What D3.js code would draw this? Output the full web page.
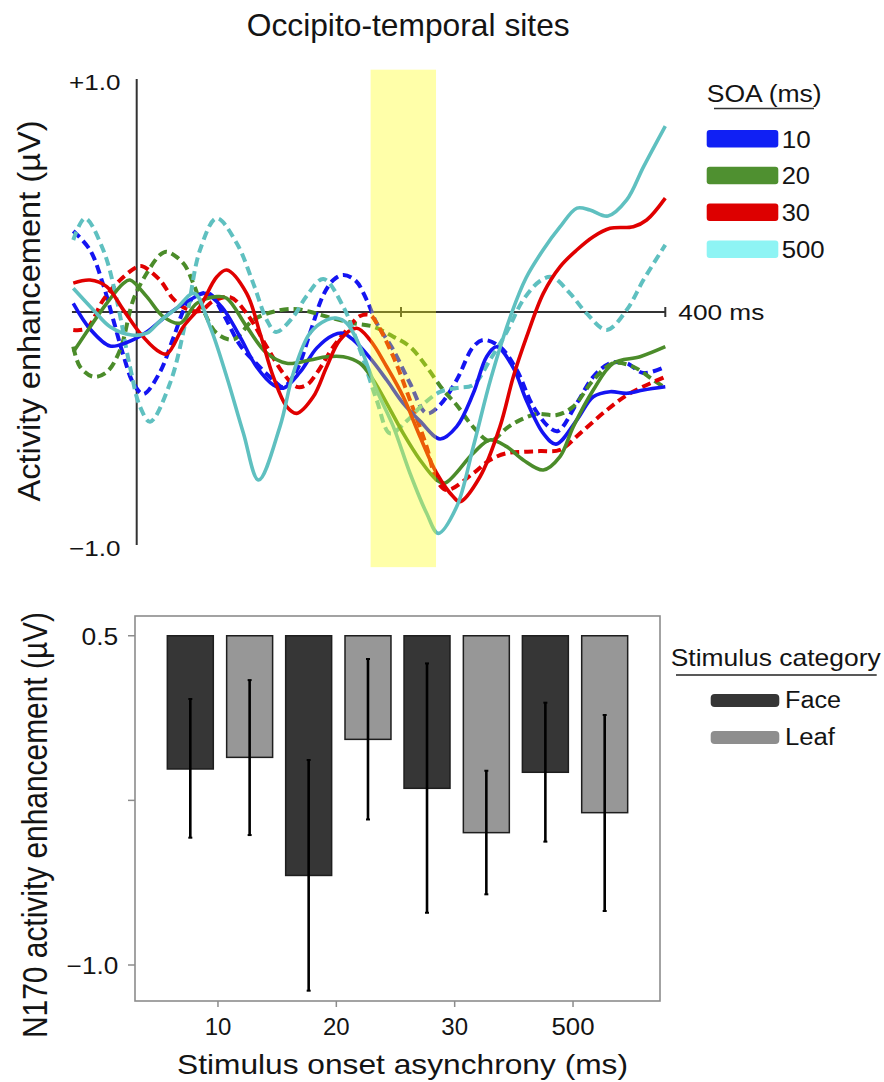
<!DOCTYPE html>
<html><head><meta charset="utf-8">
<script src="https://cdn.jsdelivr.net/npm/d3@7"></script>
<style>
html,body{margin:0;padding:0;background:#fff;}
svg{display:block;}
text{font-family:"Liberation Sans",Arial,Helvetica,sans-serif;fill:#141414;}
</style></head><body>
<svg id="chart" width="884" height="1082"></svg>
<script>
// ---------------- DATA ----------------
// Top panel: ERP difference waves, [time (ms), amplitude (µV)]
const soaLevels = ["10", "20", "30", "500"];
const erp10Solid = [[-48,0.037],[-35.3,-0.073],[-20.2,-0.146],[-7.6,-0.131],[7.6,-0.086],[25.2,-0.004],[42.8,0.060],[51.7,0.080],[64.5,0.021],[78.2,-0.107],[90.8,-0.236],[103.4,-0.313],[110.9,-0.327],[123.6,-0.258],[136.2,-0.155],[148.8,-0.099],[156.1,-0.091],[163.9,-0.120],[176.5,-0.197],[189.2,-0.292],[201.7,-0.392],[214.4,-0.468],[229.5,-0.545],[242.1,-0.492],[254.7,-0.349],[264.8,-0.192],[272.4,-0.149],[285.0,-0.240],[295.1,-0.382],[307.7,-0.521],[317.3,-0.567],[333.0,-0.464],[345.5,-0.364],[358.2,-0.342],[370.8,-0.349],[383.4,-0.335],[400,-0.321]];
const erp10Dashed = [[-48,0.348],[-35.3,0.266],[-25.3,0.116],[-17.7,-0.034],[-10.1,-0.185],[-2.6,-0.305],[5.0,-0.352],[17.6,-0.258],[27.7,-0.112],[37.8,0.030],[47.9,0.077],[55.5,0.077],[65.5,-0.009],[78.2,-0.142],[90.8,-0.223],[103.4,-0.292],[110.9,-0.322],[121.1,-0.249],[131.1,-0.091],[141.2,0.073],[148.8,0.137],[156.3,0.159],[165.9,0.133],[174.0,0.052],[181.6,-0.048],[194.2,-0.163],[206.8,-0.306],[219.4,-0.435],[229.5,-0.399],[242.1,-0.292],[254.7,-0.149],[262.3,-0.120],[274.9,-0.149],[287.6,-0.249],[300.1,-0.406],[312.8,-0.498],[318.8,-0.511],[333.0,-0.392],[345.5,-0.278],[358.2,-0.220],[370.8,-0.220],[383.4,-0.262],[400,-0.235]];
const erp20Solid = [[-48,-0.172],[-35.3,-0.064],[-22.7,0.037],[-10.1,0.123],[-5.1,0.137],[7.6,0.066],[20.1,-0.020],[32.8,-0.048],[45.4,0.037],[60.5,0.066],[68.1,0.059],[83.2,-0.063],[98.4,-0.177],[113.5,-0.220],[131.1,-0.206],[143.8,-0.192],[156.3,-0.192],[169.0,-0.220],[179.0,-0.292],[189.2,-0.392],[201.7,-0.521],[214.4,-0.635],[227.0,-0.721],[233.3,-0.734],[254.7,-0.606],[267.3,-0.549],[280.0,-0.578],[292.5,-0.635],[307.7,-0.678],[320.3,-0.621],[330.4,-0.492],[345.5,-0.335],[360.6,-0.220],[380.9,-0.192],[400,-0.149]];
const erp20Dashed = [[-48,-0.149],[-42.9,-0.235],[-32.8,-0.278],[-22.7,-0.258],[-12.6,-0.163],[-2.6,0.052],[7.6,0.166],[17.6,0.245],[22.7,0.259],[35.3,0.209],[42.8,0.123],[50.4,0.009],[60.5,-0.091],[73.1,-0.118],[88.2,-0.034],[103.4,0.001],[118.5,0.013],[131.1,0.001],[143.8,-0.020],[163.9,-0.048],[179.0,-0.063],[194.2,-0.106],[206.8,-0.149],[219.4,-0.235],[232.0,-0.335],[242.1,-0.399],[254.7,-0.494],[267.3,-0.554],[280.0,-0.498],[290.0,-0.464],[302.7,-0.438],[317.8,-0.442],[330.4,-0.406],[345.5,-0.292],[360.6,-0.220],[375.8,-0.235],[390.9,-0.292],[400,-0.326]];
const erp30Solid = [[-48,0.124],[-35.3,0.137],[-22.7,0.109],[-10.1,0.009],[2.5,-0.091],[15.1,-0.163],[22.7,-0.180],[35.3,-0.063],[47.9,0.023],[60.5,0.150],[68.1,0.180],[83.2,0.080],[93.3,-0.091],[103.4,-0.278],[113.5,-0.406],[121.1,-0.435],[133.6,-0.364],[143.8,-0.235],[153.8,-0.120],[166.5,-0.070],[176.5,-0.120],[189.2,-0.235],[201.7,-0.364],[214.4,-0.535],[227.0,-0.692],[239.6,-0.793],[244.6,-0.814],[259.8,-0.707],[274.9,-0.492],[285.0,-0.278],[295.1,-0.106],[307.7,0.080],[320.3,0.194],[333.0,0.266],[345.5,0.323],[358.2,0.359],[375.8,0.366],[385.9,0.395],[400,0.489]];
const erp30Dashed = [[-48,-0.077],[-37.8,-0.070],[-25.3,0.052],[-12.6,0.137],[0,0.193],[4.0,0.197],[17.6,0.137],[27.7,0.056],[37.8,0.013],[47.9,0.004],[58.0,0.047],[70.6,0.064],[83.2,-0.006],[98.4,-0.149],[110.9,-0.263],[121.1,-0.321],[128.6,-0.313],[136.2,-0.263],[148.8,-0.149],[158.9,-0.077],[169.0,-0.017],[176.5,-0.013],[181.6,-0.048],[194.2,-0.192],[206.8,-0.378],[219.4,-0.578],[227.0,-0.721],[234.6,-0.764],[254.7,-0.692],[267.3,-0.635],[280.0,-0.606],[292.5,-0.600],[305.2,-0.597],[320.3,-0.592],[335.5,-0.521],[355.7,-0.421],[373.3,-0.349],[400,-0.278]];
const erp500Solid = [[-48,0.102],[-32.8,0.009],[-20.2,-0.063],[-3.8,-0.099],[7.6,-0.091],[17.6,-0.039],[30.3,0.017],[43.4,0.080],[55.5,-0.063],[68.1,-0.278],[80.7,-0.519],[92.2,-0.721],[108.4,-0.492],[118.5,-0.263],[131.1,-0.091],[143.8,-0.034],[150.8,-0.026],[158.9,-0.048],[169.0,-0.149],[181.6,-0.335],[194.2,-0.492],[206.8,-0.692],[219.4,-0.864],[228.2,-0.950],[242.1,-0.836],[254.7,-0.578],[268.1,-0.283],[284.0,0],[294.6,0.146],[307.5,0.266],[320.3,0.365],[333.2,0.446],[343.0,0.438],[356.6,0.412],[370.8,0.481],[383.4,0.622],[400,0.798]];
const erp500Dashed = [[-48,0.309],[-39.1,0.402],[-25.3,0.266],[-15.1,0.052],[-5.1,-0.235],[2.5,-0.406],[10.1,-0.471],[25.2,-0.306],[37.8,-0.020],[47.9,0.266],[60.5,0.402],[75.7,0.295],[88.2,0.123],[98.4,-0.034],[105.4,-0.086],[118.5,-0.020],[128.6,0.069],[141.2,0.142],[156.3,0.023],[169.0,-0.163],[181.6,-0.378],[191.7,-0.521],[204.3,-0.468],[216.9,-0.395],[229.5,-0.343],[242.1,-0.326],[254.7,-0.313],[267.3,-0.206],[280.0,-0.086],[292.5,0.052],[305.2,0.133],[314.3,0.150],[327.9,0.080],[340.5,-0.006],[355.7,-0.077],[370.8,0.009],[383.4,0.137],[400,0.288]];
const n170Window = [177, 226.5];          // ms, highlighted window
const topTimeTicks = [200, 400];
const topTickLabels = ["+1.0", "\u22121.0"];

// Bottom panel: N170 enhancement, bars hang from the 0.5 baseline
const categories = ["10", "20", "30", "500"];
const stimulusTypes = ["Face", "Leaf"];
const faceMeans = [-0.107, -0.592, -0.195, -0.122];
const leafMeans = [-0.054, 0.028, -0.397, -0.306];
const faceErrLow = [-0.420, -1.117, -0.762, -0.438];
const faceErrHigh = [0.212, -0.066, 0.374, 0.195];
const leafErrLow = [-0.408, -0.337, -0.678, -0.754];
const leafErrHigh = [0.298, 0.394, -0.115, 0.139];
const barBase = 0.5;
const bottomYTicks = [0.5, -0.25, -1.0];
const bottomYTickLabels = ["0.5", "", "\u22121.0"];

// ---------------- STYLE ----------------
const lineColor = {"10": "#1414f2", "20": "#4b8c2a", "30": "#e00000", "500": "#5fc0c0"};
const swatchColor = {"10": "#1020f4", "20": "#4f9030", "30": "#dd0000", "500": "#8ef4f4"};
const stimColor = {"Face": "#363636", "Leaf": "#979797"};
const stimSwatch = {"Face": "#353535", "Leaf": "#8e8e8e"};

const svg = d3.select("#chart");

function label(g, str, x, y, size, anchor, len, rotate) {
  const t = g.append("text").attr("font-size", size).attr("text-anchor", anchor).text(str);
  if (rotate) t.attr("transform", `translate(${x},${y}) rotate(-90)`);
  else t.attr("x", x).attr("y", y);
  if (len) t.attr("textLength", len).attr("lengthAdjust", "spacingAndGlyphs");
  return t;
}

// ---------------- TOP PANEL ----------------
const xT = d3.scaleLinear().domain([0, 400]).range([136.7, 665.3]);
const yT = d3.scaleLinear().domain([-1, 1]).range([545, 79]);
const topG = svg.append("g");

// axes
topG.append("line").attr("x1", xT(-49)).attr("x2", xT(400)).attr("y1", yT(0)).attr("y2", yT(0))
  .attr("stroke", "#333").attr("stroke-width", 2);
topG.append("line").attr("x1", xT(0)).attr("x2", xT(0)).attr("y1", yT(1)).attr("y2", yT(-1))
  .attr("stroke", "#333").attr("stroke-width", 2);
topG.selectAll("line.tk").data(topTimeTicks).enter().append("line").attr("class", "tk")
  .attr("x1", d => xT(d)).attr("x2", d => xT(d))
  .attr("y1", yT(0) - 5).attr("y2", yT(0) + 5)
  .attr("stroke", "#333").attr("stroke-width", 2);

// lines
const lineGen = d3.line().x(d => xT(d[0])).y(d => yT(d[1])).curve(d3.curveCatmullRom.alpha(0.5));
const series = [
  {soa: "10", dashed: true, data: erp10Dashed},
  {soa: "20", dashed: true, data: erp20Dashed},
  {soa: "30", dashed: true, data: erp30Dashed},
  {soa: "500", dashed: true, data: erp500Dashed},
  {soa: "10", dashed: false, data: erp10Solid},
  {soa: "20", dashed: false, data: erp20Solid},
  {soa: "30", dashed: false, data: erp30Solid},
  {soa: "500", dashed: false, data: erp500Solid}
];
topG.selectAll("path.erp").data(series).enter().append("path").attr("class", "erp")
  .attr("d", d => lineGen(d.data))
  .attr("fill", "none")
  .attr("stroke", d => lineColor[d.soa])
  .attr("stroke-width", d => d.dashed ? 4 : 3.6)
  .attr("stroke-dasharray", d => d.dashed ? "9,5" : null)
  .attr("stroke-linecap", "butt");

// highlighted window (translucent overlay)
topG.append("rect")
  .attr("x", xT(n170Window[0])).attr("width", xT(n170Window[1]) - xT(n170Window[0]))
  .attr("y", yT(1.04)).attr("height", yT(-1.095) - yT(1.04))
  .attr("fill", "#ffff10").attr("opacity", 0.36);

// labels
label(topG, "Occipito-temporal sites", 246.7, 36, 30.5, "start", 323);
label(topG, topTickLabels[0], 69, 90, 22, "start", 51.5);
label(topG, topTickLabels[1], 69, 555.5, 22, "start", 51.5);
label(topG, "400 ms", 678.3, 320, 21.5, "start", 86);
label(topG, "Activity enhancement (\u00b5V)", 40, 311, 30.5, "middle", 381, true);

// legend
label(topG, "SOA (ms)", 706.7, 101.7, 23.3, "start", 115);
topG.append("line").attr("x1", 714).attr("x2", 814).attr("y1", 108.5).attr("y2", 108.5)
  .attr("stroke", "#333").attr("stroke-width", 1.6);
const legW = [29, 28.3, 28.3, 43];
soaLevels.forEach((s, i) => {
  const yy = 130 + i * 36.8;
  topG.append("rect").attr("x", 706.7).attr("y", yy).attr("width", 71.6).attr("height", 17.5)
    .attr("rx", 3).attr("fill", swatchColor[s]);
  label(topG, s, 781.7, yy + 17.5, 23.5, "start", legW[i]);
});

// ---------------- BOTTOM PANEL ----------------
const yB = d3.scaleLinear().domain([-1.164, 0.59]).range([1001, 616]);
const x0 = d3.scaleBand().domain(categories).range([160.8, 634.2]);
const x1 = d3.scaleBand().domain(stimulusTypes).range([0, x0.bandwidth()]).paddingInner(0.225).paddingOuter(0.11);
const botG = svg.append("g");

botG.append("rect").attr("x", 135).attr("y", 616).attr("width", 525).attr("height", 385)
  .attr("fill", "none").attr("stroke", "#8c8c8c").attr("stroke-width", 1.6);

const barRows = [];
categories.forEach((c, i) => {
  barRows.push({cat: c, type: "Face", v: faceMeans[i], lo: faceErrLow[i], hi: faceErrHigh[i]});
  barRows.push({cat: c, type: "Leaf", v: leafMeans[i], lo: leafErrLow[i], hi: leafErrHigh[i]});
});
botG.selectAll("rect.bar").data(barRows).enter().append("rect").attr("class", "bar")
  .attr("x", d => x0(d.cat) + x1(d.type))
  .attr("width", x1.bandwidth())
  .attr("y", yB(barBase))
  .attr("height", d => yB(d.v) - yB(barBase))
  .attr("fill", d => stimColor[d.type])
  .attr("stroke", "#1e1e1e").attr("stroke-width", 1.5);

const cx = d => x0(d.cat) + x1(d.type) + x1.bandwidth() / 2;
botG.selectAll("line.err").data(barRows).enter().append("line").attr("class", "err")
  .attr("x1", cx).attr("x2", cx)
  .attr("y1", d => yB(d.hi)).attr("y2", d => yB(d.lo))
  .attr("stroke", "#000").attr("stroke-width", 2.6);
["hi", "lo"].forEach(k => {
  botG.selectAll("line.cap" + k).data(barRows).enter().append("line").attr("class", "cap" + k)
    .attr("x1", d => cx(d) - 2).attr("x2", d => cx(d) + 2)
    .attr("y1", d => yB(d[k])).attr("y2", d => yB(d[k]))
    .attr("stroke", "#000").attr("stroke-width", 2);
});

// y ticks
bottomYTicks.forEach((v, i) => {
  botG.append("line").attr("x1", 128).attr("x2", 135).attr("y1", yB(v)).attr("y2", yB(v))
    .attr("stroke", "#8c8c8c").attr("stroke-width", 1.5);
  if (bottomYTickLabels[i]) {
    label(botG, bottomYTickLabels[i], 118.3, yB(v) + 9.3, 23, "end", bottomYTickLabels[i].length === 3 ? 36.7 : 51.7);
  }
});
// x ticks
const catW = [26.7, 26.7, 26.7, 43];
categories.forEach((c, i) => {
  const tx = x0(c) + x0.bandwidth() / 2 - 2;
  botG.append("line").attr("x1", tx).attr("x2", tx).attr("y1", 1001).attr("y2", 1007)
    .attr("stroke", "#8c8c8c").attr("stroke-width", 1.5);
  label(botG, c, tx, 1035, 23, "middle", catW[i]);
});

label(botG, "Stimulus onset asynchrony (ms)", 177, 1074, 28, "start", 451);
label(botG, "N170 activity enhancement (\u00b5V)", 46.7, 825, 35, "middle", 426, true);

// legend
label(botG, "Stimulus category", 670.7, 665.7, 24, "start", 210);
botG.append("line").attr("x1", 676).attr("x2", 876.7).attr("y1", 675).attr("y2", 675)
  .attr("stroke", "#222").attr("stroke-width", 1.6);
const stimLabW = [56, 50];
stimulusTypes.forEach((s, i) => {
  const yy = 694 + i * 37;
  botG.append("rect").attr("x", 710.7).attr("y", yy).attr("width", 68.6).attr("height", 13)
    .attr("rx", 4).attr("fill", stimSwatch[s]);
  label(botG, s, 785, yy + 14.3, 23.3, "start", stimLabW[i]);
});
</script>
</body></html>
